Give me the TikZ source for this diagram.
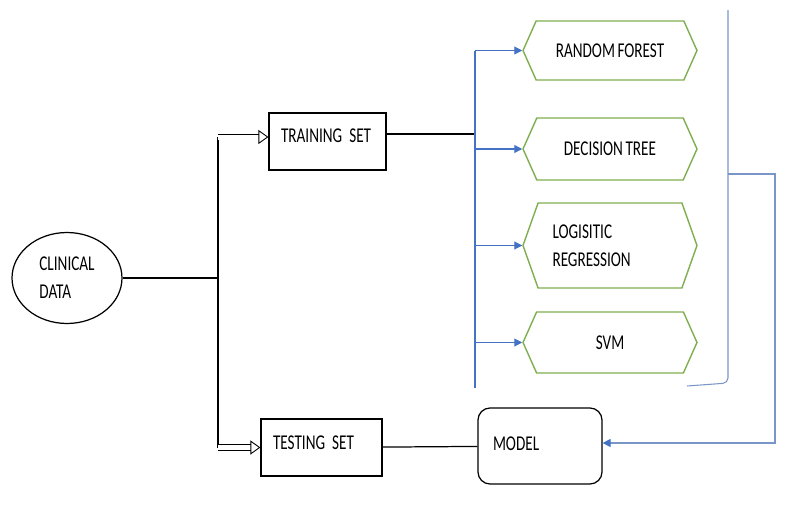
\documentclass[tikz,border=0pt]{standalone}
\usepackage{fontspec}
\setmainfont[FakeStretch=0.72,WordSpace=0.75]{Carlito}
\usetikzlibrary{arrows.meta,positioning,shapes.geometric,shapes.symbols}
\definecolor{flow}{HTML}{4472C4}
\definecolor{algo}{HTML}{7FAE4F}
\definecolor{loopback}{HTML}{7A96C8}

\begin{document}
\begin{tikzpicture}[
  x=0.02cm, y=-0.02cm,
  every node/.style={font=\fontsize{12}{15.8}\selectfont},
  box/.style={draw,line width=0.7pt,inner xsep=0.24cm,align=left,minimum height=1.14cm,text height=8pt,text depth=7pt},
  hexa/.style={draw=algo,line width=0.8pt,signal,signal to=west and east,signal pointer angle=132,minimum width=3.48cm,minimum height=#1,align=center},
  hollow/.style={double,double distance=0.1cm,line width=0.5pt,-{Triangle[open,length=0.2cm,width=0.28cm]}},
  feed/.style={flow,line width=0.6pt,-{Triangle[length=0.16cm,width=0.16cm]}},
]
  \useasboundingbox (0,0) rectangle (799,514);

  % data and the two sets
  \node[ellipse,draw,line width=0.7pt,minimum width=2.2cm,minimum height=1.82cm,align=left] (clin) at (67,278) {CLINICAL\\DATA};
  \node[box,text width=1.86cm] (train) at (327.5,141.5) {TRAINING SET};
  \node[box,text width=1.94cm,text depth=6pt] (test) at (321.5,447.5) {TESTING SET};
  \node[box,rounded corners=0.24cm,inner xsep=0.3cm,text width=1.88cm,minimum height=1.52cm,text depth=3pt] (model) at (540,446) {MODEL};

  % classifiers
  \node[hexa=1.18cm] (rf) at (610,50.5) {RANDOM FOREST};
  \node[hexa=1.24cm] (dt) at (610,149) {DECISION TREE};
  \node[hexa=1.7cm,signal pointer angle=141,text width=2.3cm,align=left] (lr) at (610,245.5) {LOGISITIC\\REGRESSION};
  \node[hexa=1.22cm] (svm) at (610,342.5) {SVM};

  \coordinate (split) at (218,278);
  \coordinate (forktop) at (218,137);
  \coordinate (join) at (475,134);
  \coordinate (bustop) at (475,51);
  \coordinate (busbot) at (475,388);
  \coordinate (brktop) at (728,10);
  \coordinate (brkbot) at (687,386);
  \coordinate (tap) at (728,174);
  \coordinate (drop) at (775,174);

  \draw[line width=0.7pt] (clin) -- (split);
  \draw[line width=0.7pt] (forktop) -- (split |- test);
  \draw[hollow] (forktop) -- (forktop -| train.west);
  \draw[hollow] (split |- test) -- (test.west);
  \draw[line width=0.7pt] (join -| train.east) -- (join);
  \draw[line width=0.7pt] (test) -- (model);

  \draw[flow,line width=0.6pt] (bustop) -- (busbot);
  \foreach \n in {rf,dt,lr,svm}
    \draw[feed] (bustop |- \n.west) -- (\n.west);

  % results back to the model
  \draw[loopback,line width=0.6pt,rounded corners=0.1cm] (brktop) -- (brktop |- 0,383) -- (brkbot);
  \draw[loopback,line width=0.6pt,-{Triangle[length=0.16cm,width=0.16cm,color=flow]}] (tap) -- (drop) |- ([yshift=0.06cm]model.east);
\end{tikzpicture}
\end{document}
